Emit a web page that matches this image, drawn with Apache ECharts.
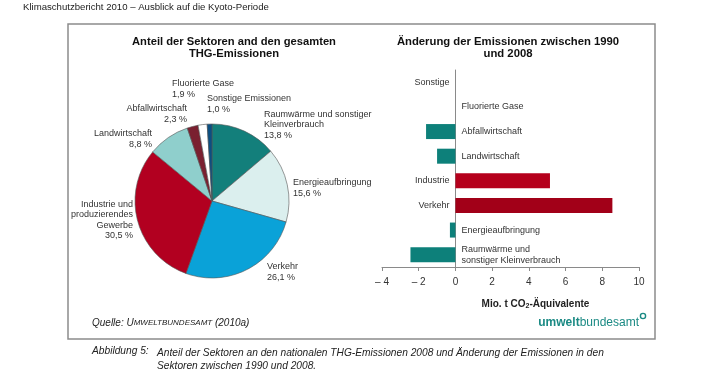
<!DOCTYPE html>
<html>
<head>
<meta charset="utf-8">
<script src="https://cdn.jsdelivr.net/npm/echarts@6/dist/echarts.min.js"></script>
<style>
  html, body { margin: 0; padding: 0; background: #fff; }
  #main { width: 720px; height: 375px; }
</style>
</head>
<body>
<div id="main"></div>
<script>
// Anteil der Sektoren (Kreis)
var pieNames = ['Raumwärme und sonstiger\nKleinverbrauch', 'Energieaufbringung', 'Verkehr',
    'Industrie und\nproduzierendes\nGewerbe', 'Landwirtschaft', 'Abfallwirtschaft',
    'Fluorierte Gase', 'Sonstige Emissionen'];
var pieValues = [13.8, 15.6, 26.1, 30.5, 8.8, 2.3, 1.9, 1.0];
var pieColors = ['#137f7b', '#dbefee', '#0aa2d8', '#b20020', '#8fcfcc', '#7a2030', '#ffffff', '#0b4f82'];

// Änderung 1990-2008 (Balken)
var barCats = ['Sonstige', 'Fluorierte Gase', 'Abfallwirtschaft', 'Landwirtschaft', 'Industrie',
    'Verkehr', 'Energieaufbringung', 'Raumwärme und\nsonstiger Kleinverbrauch'];
var barValues = [0, 0, -1.6, -1.0, 5.15, 8.55, -0.3, -2.45];
var barColors = ['#0d807a', '#0d807a', '#0d807a', '#0d807a', '#b5001c', '#a20018', '#0d807a', '#0d807a'];
var barLabelSide = ['left', 'right', 'right', 'right', 'left', 'left', 'right', 'right'];

// Label-Positionen am Kreis [x, y, align]
var pieLabelPos = [[264, 125, 'left'], [293, 188, 'left'], [267, 272, 'left'], [133, 220, 'right'],
    [152, 139, 'right'], [187, 114, 'right'], [172, 89, 'left'], [207, 104, 'left']];

var dom = document.getElementById('main');
var myChart = echarts.init(dom);
var fontFam = 'Liberation Sans, Arial, sans-serif';

function fmt(v) {
    return v.toFixed(1).replace('.', ',');
}

var pieData = pieValues.map(function (v, i) {
    return { value: v, name: pieNames[i], itemStyle: { color: pieColors[i] } };
});
var barData = barValues.map(function (v, i) {
    return {
        value: v,
        itemStyle: { color: barColors[i] },
        label: { position: barLabelSide[i] }
    };
});

var option = {
    animation: false,
    textStyle: { fontFamily: fontFam },
    title: [{
        text: 'Anteil der Sektoren and den gesamten\nTHG-Emissionen',
        left: 229, top: 31, textAlign: 'center',
        textStyle: { fontSize: 11.2, fontWeight: 'bold', color: '#111', lineHeight: 12, fontFamily: fontFam }
    }, {
        text: 'Änderung der Emissionen zwischen 1990\nund 2008',
        left: 503, top: 31, textAlign: 'center',
        textStyle: { fontSize: 11.3, fontWeight: 'bold', color: '#111', lineHeight: 12, fontFamily: fontFam }
    }],
    grid: { left: 382, right: 81, top: 70, bottom: 108 },
    xAxis: {
        type: 'value', min: -4, max: 10, interval: 2,
        splitLine: { show: false },
        axisLine: { show: true, lineStyle: { color: '#8a8a8a' } },
        axisTick: { show: true, length: 4, lineStyle: { color: '#8a8a8a' } },
        axisLabel: {
            color: '#333', fontSize: 10, margin: 10,
            formatter: function (v) { return v < 0 ? '\u2013 ' + (-v) : String(v); }
        },
        name: 'Mio. t CO{sub|2}-Äquivalente',
        nameLocation: 'middle', nameGap: 31,
        nameTextStyle: {
            fontSize: 10, fontWeight: 'bold', color: '#222', padding: [0, 0, 0, 50],
            rich: { sub: { fontSize: 7, fontWeight: 'bold', verticalAlign: 'bottom', padding: [5, 0, 0, 0] } }
        }
    },
    yAxis: {
        type: 'category', data: barCats, inverse: true,
        axisLine: { show: true, onZero: true, lineStyle: { color: '#8a8a8a' } },
        axisTick: { show: false },
        axisLabel: { show: false }
    },
    series: [{
        type: 'pie',
        center: [212, 201],
        radius: 77,
        startAngle: 90,
        clockwise: true,
        itemStyle: { borderColor: '#555', borderWidth: 0.6 },
        label: {
            show: true, position: 'outside', color: '#333', fontSize: 9, lineHeight: 10.5,
            formatter: function (p) { return p.name + '\n' + fmt(p.value) + ' %'; }
        },
        labelLine: { show: false },
        labelLayout: function (p) {
            var pos = pieLabelPos[p.dataIndex];
            return { x: pos[0], y: pos[1], align: pos[2], verticalAlign: 'middle' };
        },
        data: pieData
    }, {
        type: 'bar',
        barWidth: 15,
        label: {
            show: true, color: '#333', fontSize: 9, lineHeight: 11, distance: 6,
            formatter: function (p) { return barCats[p.dataIndex]; }
        },
        data: barData
    }],
    graphic: [{
        type: 'text', left: 23, top: 2,
        style: { text: 'Klimaschutzbericht 2010 \u2013 Ausblick auf die Kyoto-Periode', fontSize: 9.6, fill: '#222', fontFamily: fontFam }
    }, {
        type: 'rect', shape: { x: 68, y: 24, width: 587, height: 315 },
        style: { fill: 'none', stroke: '#8c8c8c', lineWidth: 1.5 }
    }, {
        type: 'text', left: 92, top: 318,
        style: {
            text: '{a|Quelle: U}{b|MWELTBUNDESAMT}{a| (2010a)}',
            rich: {
                a: { fontSize: 10, fontStyle: 'italic', fill: '#222', fontFamily: fontFam },
                b: { fontSize: 8, fontStyle: 'italic', fill: '#222', fontFamily: fontFam }
            }
        }
    }, {
        type: 'text', right: 81, top: 317,
        style: {
            text: '{b|umwelt}{r|bundesamt}',
            rich: {
                b: { fontSize: 12, fontWeight: 'bold', fill: '#1b8a84', fontFamily: fontFam },
                r: { fontSize: 12, fill: '#1b8a84', fontFamily: fontFam }
            }
        }
    }, {
        type: 'circle', shape: { cx: 643, cy: 316, r: 2.6 },
        style: { fill: '#fff', stroke: '#1b8a84', lineWidth: 1.4 }
    }, {
        type: 'text', left: 92, top: 346,
        style: { text: 'Abbildung 5:', fontSize: 10.2, fontStyle: 'italic', fill: '#222', fontFamily: fontFam }
    }, {
        type: 'text', left: 157, top: 346,
        style: {
            text: 'Anteil der Sektoren an den nationalen THG-Emissionen 2008 und Änderung der Emissionen in den\nSektoren zwischen 1990 und 2008.',
            fontSize: 10.2, lineHeight: 13.5, fontStyle: 'italic', fill: '#222', fontFamily: fontFam
        }
    }]
};

if (option && typeof option === 'object') {
    myChart.setOption(option, true);
}
</script>
</body>
</html>
